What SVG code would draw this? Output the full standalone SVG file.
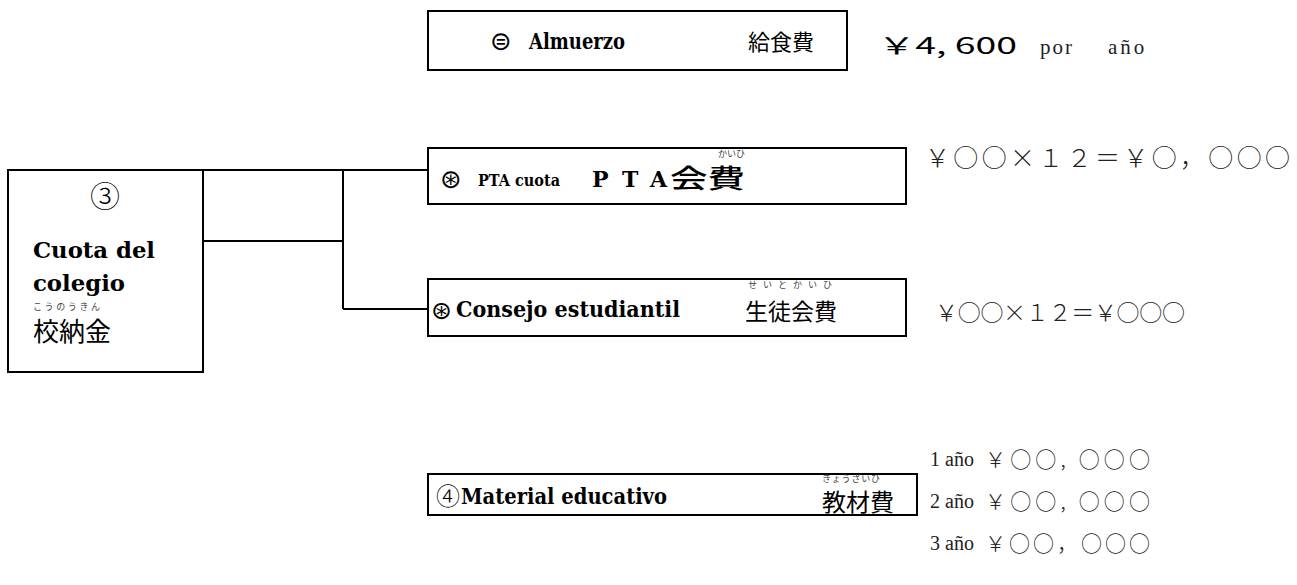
<svg xmlns="http://www.w3.org/2000/svg" width="1297" height="585" viewBox="0 0 1297 585">
<style>
.box{fill:#fff;stroke:#000;stroke-width:2}
.ln{fill:none;stroke:#000;stroke-width:2}
.lat{font-family:"DejaVu Serif","Liberation Serif",serif;font-weight:bold;fill:#000}
.jp{font-family:"Noto Sans CJK JP",sans-serif;fill:#000}
.sym{font-family:"DejaVu Sans","Noto Sans CJK JP",sans-serif;fill:#000}
.rb{font-family:"Noto Sans CJK JP",sans-serif;fill:#444;font-size:9px}
.val{font-family:"Liberation Serif","Noto Sans CJK JP",serif;fill:#222}
.vjp{font-family:"Noto Sans CJK JP",sans-serif;fill:#222;font-weight:300}
</style>
<rect width="1297" height="585" fill="#fff"/>
<g id="connectors">
<path class="ln" d="M203 170H428M343 170V309M203 241H343M343 309H428"/>
</g>
<g id="root">
<rect class="box" x="8" y="170" width="195" height="202"/>
<text class="sym" x="105" y="207" font-size="30" font-weight="300" text-anchor="middle">③</text>
<text class="lat" x="33" y="258" font-size="22" textLength="122" lengthAdjust="spacingAndGlyphs">Cuota del</text>
<text class="lat" x="33" y="291" font-size="22" textLength="92" lengthAdjust="spacingAndGlyphs">colegio</text>
<text class="rb" x="33" y="310" font-size="10" textLength="67">こうのうきん</text>
<text class="jp" x="33" y="341" font-size="26">校納金</text>
</g>
<g id="almuerzo">
<rect class="box" x="428" y="11" width="419" height="59"/>
<text class="sym" x="490" y="50" font-size="26">⊜</text>
<text class="lat" x="529" y="49" font-size="23" textLength="96" lengthAdjust="spacingAndGlyphs">Almuerzo</text>
<text class="jp" x="748" y="50" font-size="22">給食費</text>
</g>
<g id="almuerzo-value">
<text class="jp" x="878" y="54" font-size="23" textLength="139" lengthAdjust="spacingAndGlyphs">￥4, 600</text>
<text class="val" x="1040" y="54" font-size="21" letter-spacing="2">por</text>
<text class="val" x="1108" y="54" font-size="21" letter-spacing="3">año</text>
</g>
<g id="pta">
<rect class="box" x="428" y="148" width="478" height="56"/>
<text class="sym" x="440" y="188" font-size="26">⊛</text>
<text class="lat" x="478" y="186" font-size="17" textLength="82" lengthAdjust="spacingAndGlyphs">PTA cuota</text>
<text class="lat" x="592 622 650" y="187" font-size="22" font-weight="normal">PTA</text>
<text class="jp" x="670" y="188" font-size="26" font-weight="500" textLength="75" lengthAdjust="spacingAndGlyphs">会費</text>
<text class="rb" x="718" y="157" textLength="27">かいひ</text>
</g>
<g id="pta-value">
<text class="vjp" x="925" y="167" font-size="25" textLength="365" lengthAdjust="spacing">￥○○×１２＝￥○，○○○</text>
</g>
<g id="consejo">
<rect class="box" x="428" y="279" width="478" height="57"/>
<text class="sym" x="431" y="319" font-size="25">⊛</text>
<text class="lat" x="456" y="317" font-size="22" textLength="224" lengthAdjust="spacingAndGlyphs">Consejo estudiantil</text>
<text class="jp" x="745" y="320" font-size="23">生徒会費</text>
<text class="rb" x="748" y="288" font-size="10" textLength="84">せいとかいひ</text>
</g>
<g id="consejo-value">
<text class="vjp" x="935" y="321" font-size="23" textLength="250" lengthAdjust="spacing">￥○○×１２＝￥○○○</text>
</g>
<g id="material">
<rect class="box" x="428" y="474" width="489" height="41"/>
<text class="sym" x="436" y="505" font-size="24" font-weight="300">④</text>
<text class="lat" x="461" y="504" font-size="22" textLength="206" lengthAdjust="spacingAndGlyphs">Material educativo</text>
<text class="jp" x="822" y="511" font-size="24">教材費</text>
<text class="rb" x="822" y="482" textLength="58">きょうざいひ</text>
</g>
<g id="material-values">
<text class="val" x="930" y="466" font-size="20">1 año</text>
<text class="vjp" x="985" y="467" font-size="21" textLength="165" lengthAdjust="spacing">￥○○, ○○○</text>
<text class="val" x="930" y="508" font-size="20">2 año</text>
<text class="vjp" x="985" y="509" font-size="21" textLength="165" lengthAdjust="spacing">￥○○, ○○○</text>
<text class="val" x="930" y="550" font-size="20">3 año</text>
<text class="vjp" x="985" y="551" font-size="21" textLength="165" lengthAdjust="spacing">￥○○，○○○</text>
</g>
</svg>
